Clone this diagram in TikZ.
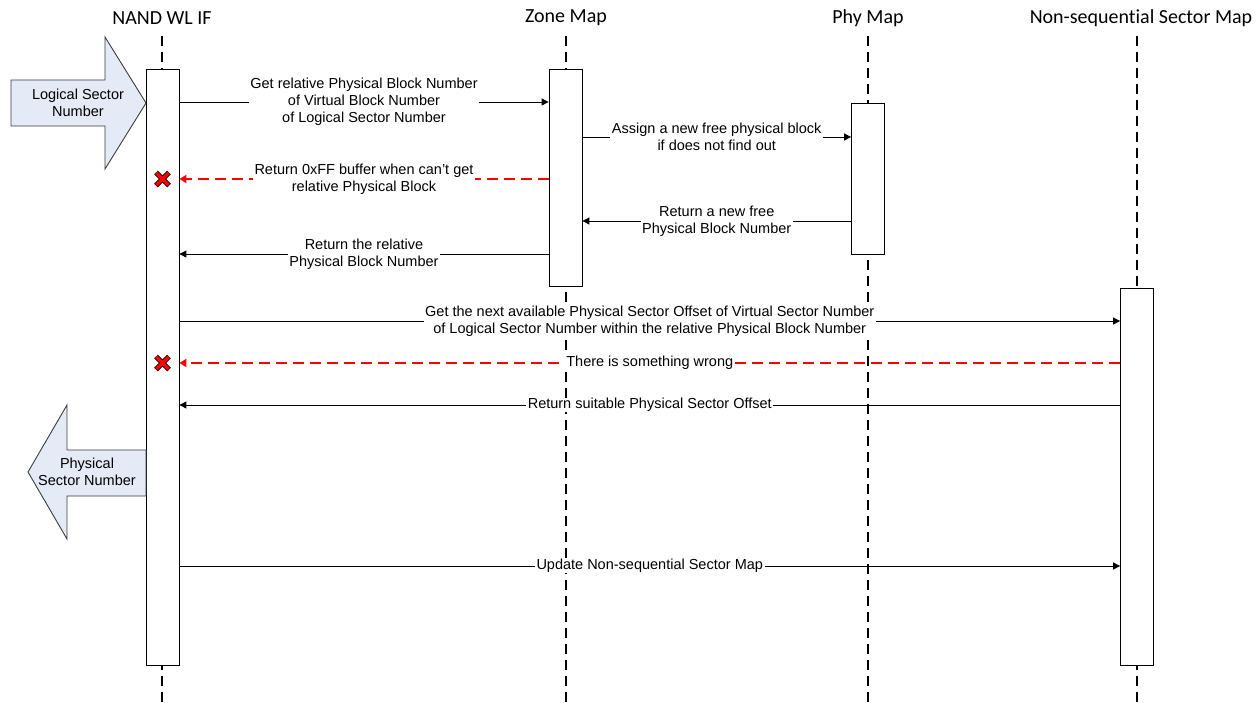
\documentclass[tikz,border=0pt]{standalone}
\usepackage{fontspec}
\setmainfont{Liberation Sans}
\newfontfamily\headfont[Ligatures=NoCommon]{Carlito}
\usetikzlibrary{arrows.meta}
\definecolor{arrowfill}{HTML}{E4EBF7}
\definecolor{arrowline}{HTML}{3C3C3C}
\definecolor{failred}{HTML}{FF0000}
\begin{document}
\begin{tikzpicture}[x=1pt,y=-1pt,
  head/.style={font=\headfont\fontsize{20}{22}\selectfont, inner sep=0pt, anchor=center},
  lifeline/.style={line width=2pt, dash pattern=on 10pt off 6pt},
  actbox/.style={draw=black, line width=0.8pt, fill=white, rectangle, inner sep=0pt,
                 minimum width=33pt, anchor=north},
  msg/.style={line width=0.9pt, -{Triangle[length=7pt,width=7pt]}},
  failmsg/.style={draw=failred, line width=2pt, dash pattern=on 11pt off 6pt,
                  -{Triangle[length=7pt,width=8pt]}},
  lbl/.style={fill=white, inner xsep=1.5pt, inner ysep=0pt, align=center,
              font=\fontsize{14.5}{17}\selectfont, text=black},
  blockarrow/.style={draw=arrowline, line width=0.9pt, fill=arrowfill, line join=miter},
  blocktext/.style={align=center, inner sep=0pt, font=\fontsize{14.5}{17}\selectfont},
  failmark/.pic={
    \draw[black, line width=5.2pt] (-6.5,-6.5) -- (6.5,6.5) (-6.5,6.5) -- (6.5,-6.5);
    \draw[failred, line width=3.4pt] (-6.2,-6.2) -- (6.2,6.2) (-6.2,6.2) -- (6.2,-6.2);
  }
]
\useasboundingbox (0,0) rectangle (1259,702);

% participants
\node[head] (hNand) at (162,18) {NAND WL IF};
\node[head] (hZone) at (566,18) {Zone Map};
\node[head] (hPhy)  at (868,18) {Phy Map};
\node[head] (hSeq)  at (1141,18) {Non-sequent\kern0pt ial Sector Map};

% lifelines
\draw[lifeline] (162,36) -- (162,702);
\draw[lifeline] (566,36) -- (566,702);
\draw[lifeline] (868,36) -- (868,702);
\draw[lifeline] (1137,36) -- (1137,702);

% activation bars
\node[actbox, minimum height=596pt] (aNand) at (162.5,69) {};
\node[actbox, minimum height=217pt] (aZone) at (565.5,69) {};
\node[actbox, minimum height=151pt] (aPhy)  at (868,103) {};
\node[actbox, minimum height=377pt] (aSeq)  at (1137,288) {};

% message rows
\coordinate (r1) at (0,102);
\coordinate (r2) at (0,137);
\coordinate (r3) at (0,179);
\coordinate (r4) at (0,221);
\coordinate (r5) at (0,254);
\coordinate (r6) at (0,321);
\coordinate (r7) at (0,363);
\coordinate (r8) at (0,405);
\coordinate (r9) at (0,566);

\draw[msg] (aNand.east |- r1) -- (aZone.west |- r1)
  node[lbl, midway] (t1) {Get relative Physical Block Number\\of Virtual Block Number\\of Logical Sector Number};
\draw[msg] (aZone.east |- r2) -- (aPhy.west |- r2)
  node[lbl, midway] (t2) {Assign a new free physical block\\if does not find out};
\draw[failmsg] (aZone.west |- r3) -- (aNand.east |- r3)
  node[lbl, midway] (t3) {Return 0xFF buffer when can\textquoteright t get\\relative Physical Block};
\draw[msg] (aPhy.west |- r4) -- (aZone.east |- r4)
  node[lbl, midway] (t4) {Return a new free\\Physical Block Number};
\draw[msg] (aZone.west |- r5) -- (aNand.east |- r5)
  node[lbl, midway] (t5) {Return the relative\\Physical Block Number};
\draw[msg] (aNand.east |- r6) -- (aSeq.west |- r6)
  node[lbl, midway] (t6) {Get the next available Physical Sector Offset of Virtual Sector Number\\of Logical Sector Number within the relative Physical Block Number};
\draw[failmsg] (aSeq.west |- r7) -- (aNand.east |- r7)
  node[lbl, midway] (t7) {There is something wrong};
\draw[msg] (aSeq.west |- r8) -- (aNand.east |- r8)
  node[lbl, midway] (t8) {Return suitable Physical Sector Offset};
\draw[msg] (aNand.east |- r9) -- (aSeq.west |- r9)
  node[lbl, midway] (t9) {Update Non-sequential Sector Map};

% failure marks on the interface lifeline
\pic at (aNand.center |- r3) {failmark};
\pic at (aNand.center |- r7) {failmark};

% input / output block arrows
\draw[blockarrow] (11,80) -- (105,80) -- (105,37) -- (146,103) -- (105,169) -- (105,126) -- (11,126) -- cycle;
\node[blocktext] (inLbl) at (78,103) {Logical Sector\\Number};
\draw[blockarrow] (146,450) -- (67,450) -- (67,405) -- (28,472) -- (67,539) -- (67,496) -- (146,496) -- cycle;
\node[blocktext] (outLbl) at (87,472) {Physical\\Sector Number};
\end{tikzpicture}
\end{document}
